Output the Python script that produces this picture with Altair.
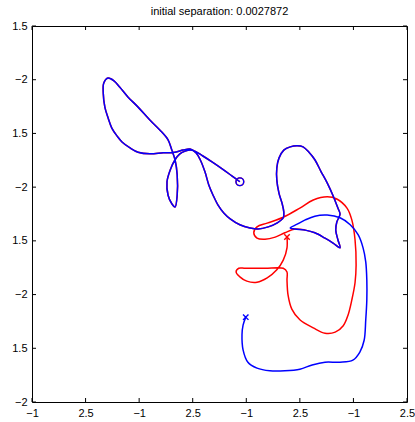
import json
import altair as alt
import pandas as pd

title_text = "initial separation: 0.0027872"
x_tick_labels = ["−1", "2.5", "−1", "2.5", "−1", "2.5", "−1", "2.5"]
y_tick_labels = ["−2", "1.5", "−2", "1.5", "−2", "1.5", "−2", "1.5"]
tick_values = [0, 1, 2, 3, 4, 5, 6, 7]

# Part of the trajectory that both runs share (until they split apart)
shared_x = [3.88, 3.73, 3.55, 3.36, 3.19, 3.04, 2.95, 2.86, 2.76, 2.67,
            2.58, 2.52, 2.54, 2.61, 2.67, 2.71, 2.71, 2.67, 2.61, 2.54,
            2.39, 2.20, 1.98, 1.79, 1.64, 1.53, 1.42, 1.34, 1.33, 1.36,
            1.42, 1.49, 1.59, 1.68, 1.83, 1.98, 2.20, 2.45, 2.67, 2.82,
            2.95, 3.06, 3.14, 3.23, 3.30, 3.38, 3.47, 3.58, 3.70, 3.88,
            4.07, 4.22, 4.41, 4.57, 4.69, 4.70, 4.67, 4.61, 4.57, 4.57,
            4.61, 4.70, 4.82, 4.95, 5.06, 5.17, 5.28, 5.39, 5.51, 5.62,
            5.71, 5.75, 5.69, 5.67, 5.71, 5.75, 5.62, 5.47, 5.28, 5.10,
            4.91]
shared_y = [4.10, 4.21, 4.34, 4.47, 4.58, 4.67, 4.69, 4.67, 4.62, 4.51,
            4.32, 4.10, 3.85, 3.69, 3.63, 3.85, 4.23, 4.51, 4.69, 4.88,
            5.06, 5.25, 5.49, 5.68, 5.86, 5.98, 6.03, 5.94, 5.75, 5.49,
            5.29, 5.10, 4.95, 4.84, 4.73, 4.65, 4.62, 4.64, 4.65, 4.69,
            4.71, 4.64, 4.51, 4.28, 4.04, 3.85, 3.67, 3.52, 3.41, 3.30,
            3.24, 3.22, 3.26, 3.33, 3.43, 3.54, 3.69, 3.89, 4.13, 4.36,
            4.54, 4.69, 4.75, 4.77, 4.75, 4.65, 4.51, 4.30, 4.08, 3.84,
            3.61, 3.50, 3.35, 3.20, 3.02, 2.87, 2.96, 3.05, 3.15, 3.20,
            3.22]

# Remainder of the blue run
blue_tail_x = [4.82, 4.95, 5.10, 5.28, 5.51, 5.75, 5.94, 6.09, 6.18, 6.23,
               6.25, 6.25, 6.23, 6.20, 6.12, 5.99, 5.75, 5.47, 5.23, 5.00,
               4.72, 4.44, 4.20, 4.03, 3.94, 3.92, 3.94, 3.99]
blue_tail_y = [3.24, 3.31, 3.39, 3.46, 3.48, 3.43, 3.30, 3.11, 2.87, 2.61,
               2.27, 1.90, 1.53, 1.15, 0.93, 0.78, 0.74, 0.74, 0.69, 0.61,
               0.58, 0.58, 0.63, 0.74, 0.97, 1.25, 1.43, 1.58]

# Remainder of the red run
red_tail_x = [4.72, 4.54, 4.35, 4.20, 4.14, 4.20, 4.39, 4.69, 5.00, 5.25,
              5.51, 5.69, 5.88, 5.97, 6.03, 6.05, 6.03, 5.97, 5.90, 5.81,
              5.66, 5.47, 5.25, 5.00, 4.85, 4.78, 4.76, 4.76, 4.69, 4.35,
              3.98, 3.86, 3.81, 3.88, 4.01, 4.20, 4.39, 4.57, 4.69, 4.76,
              4.76]
red_tail_y = [3.15, 3.07, 3.03, 3.05, 3.15, 3.26, 3.33, 3.44, 3.61, 3.76,
              3.82, 3.78, 3.61, 3.39, 3.02, 2.55, 2.22, 1.90, 1.62, 1.42,
              1.30, 1.28, 1.38, 1.53, 1.73, 1.99, 2.27, 2.42, 2.49, 2.49,
              2.49, 2.49, 2.42, 2.33, 2.25, 2.23, 2.31, 2.46, 2.64, 2.87,
              3.07]

BLUE = "#0000ff"
RED = "#ff0000"

# Thin diagonal cross used for the end-point markers
X_SHAPE = "M-1,-1L1,1M-1,1L1,-1"


def run_frame(tail_x, tail_y):
    xs = shared_x + tail_x
    ys = shared_y + tail_y
    return pd.DataFrame({"x": xs, "y": ys, "i": list(range(len(xs)))})


red_df = run_frame(red_tail_x, red_tail_y)
blue_df = run_frame(blue_tail_x, blue_tail_y)

start_df = pd.DataFrame({"x": [shared_x[0]], "y": [shared_y[0]]})
red_end_df = pd.DataFrame({"x": [red_tail_x[-1]], "y": [red_tail_y[-1]]})
blue_end_df = pd.DataFrame({"x": [blue_tail_x[-1]], "y": [blue_tail_y[-1]]})
ticks_df = pd.DataFrame({"x": tick_values, "y": tick_values})

label_font = "Liberation Sans"

xscale = alt.Scale(domain=[0, 7], nice=False, zero=False)
yscale = alt.Scale(domain=[0, 7], nice=False, zero=False)

x_axis = alt.Axis(
    values=tick_values,
    labelExpr=json.dumps(x_tick_labels) + "[datum.value]",
    ticks=False, domain=False, grid=False, title=None,
    labelFlush=False, labelPadding=5, labelFontSize=11,
    labelFont=label_font, labelColor="black",
)
y_axis = alt.Axis(
    values=tick_values,
    labelExpr=json.dumps(y_tick_labels) + "[datum.value]",
    ticks=False, domain=False, grid=False, title=None,
    labelFlush=False, labelPadding=5, labelFontSize=11,
    labelFont=label_font, labelColor="black",
)

X = alt.X("x:Q", scale=xscale, axis=x_axis)
Y = alt.Y("y:Q", scale=yscale, axis=y_axis)


def trajectory(df, color):
    return alt.Chart(df).mark_line(
        color=color, strokeWidth=1.5, interpolate="catmull-rom"
    ).encode(x=X, y=Y, order=alt.Order("i:Q"))


def marker(df, color, shape, size):
    return alt.Chart(df).mark_point(
        shape=shape, size=size, filled=False, color=color,
        strokeWidth=1.4, opacity=1
    ).encode(x=X, y=Y)


W, H = 375, 376
TICK = 4

# Inward tick marks on all four sides of the frame
bottom_ticks = alt.Chart(ticks_df).mark_rule(color="black", strokeWidth=1).encode(
    x=X, y=alt.value(H), y2=alt.value(H - TICK))
top_ticks = alt.Chart(ticks_df).mark_rule(color="black", strokeWidth=1).encode(
    x=X, y=alt.value(0), y2=alt.value(TICK))
left_ticks = alt.Chart(ticks_df).mark_rule(color="black", strokeWidth=1).encode(
    y=Y, x=alt.value(0), x2=alt.value(TICK))
right_ticks = alt.Chart(ticks_df).mark_rule(color="black", strokeWidth=1).encode(
    y=Y, x=alt.value(W), x2=alt.value(W - TICK))

chart = alt.layer(
    trajectory(red_df, RED),
    trajectory(blue_df, BLUE),
    marker(start_df, RED, "circle", 60),
    marker(start_df, BLUE, "circle", 60),
    marker(red_end_df, RED, X_SHAPE, 30),
    marker(blue_end_df, BLUE, X_SHAPE, 30),
    bottom_ticks, top_ticks, left_ticks, right_ticks,
).properties(
    width=W,
    height=H,
    background="white",
    title=alt.TitleParams(
        title_text, fontSize=11, font=label_font, fontWeight="normal",
        color="black", anchor="middle", offset=3,
    ),
    autosize=alt.AutoSizeParams(type="none"),
    padding={"left": 32, "top": 26, "right": 8, "bottom": 20},
).configure_view(
    stroke="black", strokeWidth=1
)

chart.save("out.html", embed_options={"renderer": "svg", "actions": False})
